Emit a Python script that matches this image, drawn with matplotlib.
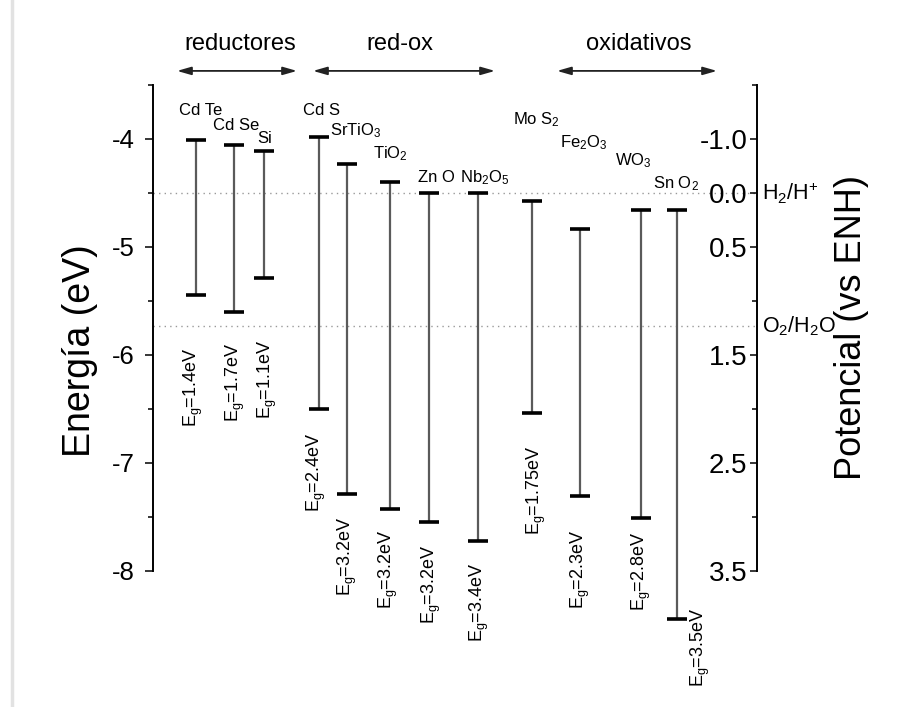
import matplotlib
matplotlib.use('Agg')
import matplotlib.pyplot as plt
from matplotlib.lines import Line2D

plt.rcParams['font.family'] = ['Liberation Sans', 'DejaVu Sans']
plt.rcParams['mathtext.fontset'] = 'custom'
plt.rcParams['mathtext.rm'] = 'Liberation Sans'
plt.rcParams['mathtext.it'] = 'Liberation Sans:italic'
plt.rcParams['mathtext.bf'] = 'Liberation Sans:bold'

# band edges (eV, vacuum scale)
materials = ['Cd Te', 'Cd Se', 'Si', 'Cd S', r'SrTiO$_\mathregular{3}$', r'TiO$_\mathregular{2}$',
             'Zn O', r'Nb$_\mathregular{2}$O$_\mathregular{5}$', r'Mo S$_\mathregular{2}$',
             r'Fe$_\mathregular{2}$O$_\mathregular{3}$', r'WO$_\mathregular{3}$', r'Sn O$_\mathregular{2}$']
cb = [-4.01, -4.06, -4.11, -3.98, -4.23, -4.40, -4.50, -4.50, -4.57, -4.83, -4.66, -4.66]
vb = [-5.44, -5.60, -5.29, -6.50, -7.29, -7.43, -7.55, -7.72, -6.54, -7.31, -7.51, -8.44]
eg = ['1.4', '1.7', '1.1', '2.4', '3.2', '3.2', '3.2', '3.4', '1.75', '2.3', '2.8', '3.5']

groups = ['reductores', 'red-ox', 'oxidativos']
redox_levels = [0.0, 1.23]  # V vs ENH
redox_names = [r'H$_\mathregular{2}$/H$^\mathregular{+}$', r'O$_\mathregular{2}$/H$_\mathregular{2}$O']

left_ticks = [-4, -5, -6, -7, -8]
right_ticks = [-0.5, 0.0, 0.5, 1.5, 2.5, 3.5]
right_ticklabels = ['-1.0', '0.0', '0.5', '1.5', '2.5', '3.5']

# layout (x slots, label anchors)
xpos = [4.3, 8.1, 11.1, 16.6, 19.4, 23.7, 27.6, 32.5, 37.9, 42.7, 48.8, 52.4]
name_xy = [(2.6, -3.78), (6.0, -3.92), (10.4, -4.04), (15.0, -3.78), (17.7, -3.97), (22.0, -4.18),
           (26.5, -4.40), (30.7, -4.40), (36.0, -3.86), (40.7, -4.08), (46.2, -4.24), (50.0, -4.46)]
eg_xy = [(4.0, -5.93), (8.2, -5.89), (11.4, -5.86), (16.3, -6.72), (19.4, -7.50), (23.5, -7.62),
         (27.8, -7.76), (32.6, -7.92), (38.3, -6.84), (42.7, -7.62), (48.8, -7.64), (54.7, -8.34)]
group_span = [(2.4, 14.4), (16.0, 34.2), (40.4, 56.4)]
group_cx = [8.75, 24.7, 48.6]

ylo, yhi = -8.0, -3.5

fig = plt.figure(figsize=(9.04, 7.07), dpi=100)
ax = fig.add_axes([153/904, 136/707, 604/904, 486/707])
ax.set_xlim(0, 60.4)
ax.set_ylim(ylo, yhi)

# dotted redox reference lines
for v in redox_levels:
    ax.axhline(-4.5 - v, color='#999999', lw=1.0, ls=(0, (1, 3)), zorder=1)

# bands
ax.vlines(xpos, vb, cb, color='#5a5a5a', lw=1.6, zorder=2, clip_on=False)
ax.plot(xpos, cb, ls='none', marker='_', ms=14, mew=2.6, color='k', clip_on=False, zorder=3)
ax.plot(xpos, vb, ls='none', marker='_', ms=14, mew=2.6, color='k', clip_on=False, zorder=3)

for name, (x, y) in zip(materials, name_xy):
    ax.text(x, y, name, fontsize=12, ha='left', va='baseline', clip_on=False)
for g, (x, y) in zip(eg, eg_xy):
    ax.text(x, y, r'E$_\mathregular{g}$=' + g + 'eV', fontsize=13, rotation=90,
            ha='center', va='top', clip_on=False)

# group arrows on top
for name, (x0, x1), cx in zip(groups, group_span, group_cx):
    ax.annotate('', xy=(x1, 1.029), xytext=(x0, 1.029), xycoords=('data', 'axes fraction'),
                arrowprops=dict(arrowstyle='<|-|>,head_length=0.7,head_width=0.2', lw=1.3,
                                color='#222222', shrinkA=0, shrinkB=0, mutation_scale=12))
    ax.text(cx, 1.085, name, fontsize=17, ha='center', va='center',
            transform=ax.get_xaxis_transform())

# left axis
for s in ['top', 'right', 'bottom']:
    ax.spines[s].set_visible(False)
ax.spines['left'].set_linewidth(1.4)
ax.set_xticks([])
ax.set_yticks(left_ticks)
ax.set_yticklabels([str(t) for t in left_ticks])
ax.set_yticks([-3.5, -4.5, -5.5, -6.5, -7.5], minor=True)
ax.tick_params(axis='y', which='major', direction='out', length=6, width=1.1, labelsize=18.5, pad=7)
ax.tick_params(axis='y', which='minor', direction='out', length=3.5, width=1.1)

# right axis: potential vs ENH
ax2 = ax.twinx()
ax2.set_ylim(-4.5 - ylo, -4.5 - yhi)
for s in ['top', 'left', 'bottom']:
    ax2.spines[s].set_visible(False)
ax2.spines['right'].set_linewidth(1.4)
ax2.set_yticks(right_ticks)
ax2.set_yticklabels(right_ticklabels)
ax2.set_yticks([-1.0, 1.0, 2.0, 3.0], minor=True)
ax2.tick_params(axis='y', which='major', direction='in', length=5, width=1.1, labelsize=20, pad=-7)
ax2.tick_params(axis='y', which='minor', direction='in', length=3.5, width=1.1)
for lbl in ax2.get_yticklabels():
    lbl.set_ha('right')

for v, name in zip(redox_levels, redox_names):
    ax2.text(1.008, v, name, fontsize=15.5, ha='left', va='center',
             transform=ax2.get_yaxis_transform(), clip_on=False)

fig.text(80/904, 1 - 351/707, 'Energía (eV)', fontsize=27, rotation=90, ha='center', va='center')
fig.text(852/904, 1 - 328/707, 'Potencial (vs ENH)', fontsize=26, rotation=90, ha='center', va='center')

# faint frame line on the left edge
fig.add_artist(Line2D([12/904, 12/904], [0, 1], color='#e2e2e2', lw=2.5, transform=fig.transFigure))

fig.savefig('out.png', dpi=100)
